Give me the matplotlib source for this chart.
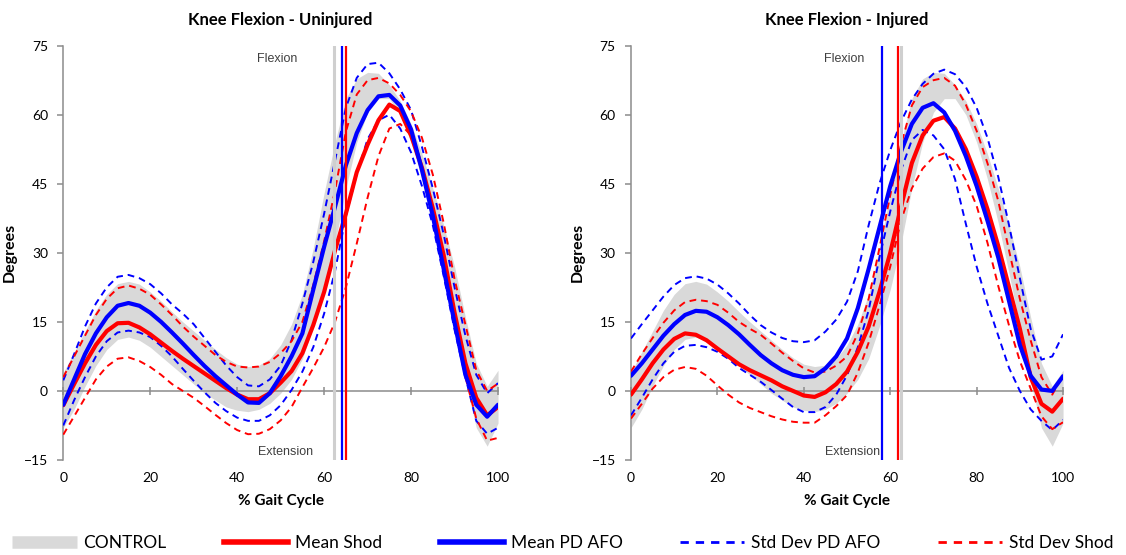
import matplotlib
matplotlib.use("Agg")
import matplotlib.pyplot as plt
from matplotlib.lines import Line2D

plt.rcParams["font.family"] = ["Lato", "DejaVu Sans"]

# % gait cycle sample points
gait = [0, 2.5, 5, 7.5, 10, 12.5, 15, 17.5, 20, 22.5, 25, 27.5, 30, 32.5, 35,
        37.5, 40, 42.5, 45, 47.5, 50, 52.5, 55, 57.5, 60, 62.5, 65, 67.5, 70,
        72.5, 75, 77.5, 80, 82.5, 85, 87.5, 90, 92.5, 95, 97.5, 100]

# control group band (mean +/- 1 SD), same in both panels
control_hi = [4, 8.5, 13, 17.5, 21, 23.3, 23.8, 23.2, 21.5, 19.5, 17.2, 15, 13,
              11, 9, 7.2, 5.8, 5.3, 5.6, 7, 10, 14.5, 21, 31, 43, 54, 63.5,
              67.8, 69.2, 69, 66.5, 63, 58, 51.5, 44, 36, 27, 16, 6, 1, 4.5]
control_lo = [-8, -4, 1, 5.5, 9, 11.2, 11.7, 11, 9.5, 7.5, 5.5, 3.5, 1.5, -0.5,
              -2, -3.5, -4.2, -4.5, -4, -2.7, -0.5, 2.5, 7, 14, 22, 32, 44, 54,
              60.5, 63.5, 63.5, 60, 54, 46, 36.5, 25.5, 14, 2, -8, -12, -7]

# uninjured limb
uninj_shod_mean = [-3.1, 1.5, 6, 10, 13, 14.7, 14.8, 13.8, 12.3, 10.5, 8.7, 7,
                   5.4, 3.8, 2.2, 0.6, -0.8, -1.8, -1.8, -0.5, 1.8, 4.3, 8.2,
                   14.3, 21.5, 30.5, 38.5, 47.5, 53.5, 58.8, 62.2, 60.8, 55.5,
                   48.5, 39.7, 29.5, 17, 6, -1.5, -5.3, -3.5]
uninj_afo_mean = [-3, 2.5, 8, 12.5, 16, 18.5, 19.1, 18.5, 17, 15, 12.7, 10.3,
                  7.8, 5.4, 3.2, 1.2, -0.8, -2.5, -2.6, -0.5, 3.2, 7.5, 12.5,
                  22, 31.3, 40, 49, 56, 61, 64, 64.3, 62, 56.8, 48, 38, 26.5,
                  14.8, 3.5, -3, -5.6, -3]
uninj_afo_hi = [2.3, 8, 14, 19, 22.5, 24.8, 25.2, 24.5, 23.2, 21.2, 18.8, 16.8,
                14.5, 11.5, 8.5, 5.5, 3, 1.2, 1, 2.5, 5.5, 11, 19, 28, 38.5, 50,
                61.5, 68, 71, 71.3, 69, 65.5, 61, 53, 44, 34, 22.5, 12, 3.5,
                -0.5, 1.7]
uninj_afo_lo = [-7.5, -2, 3, 7.5, 10.8, 12.7, 13.1, 12.7, 11.7, 9.8, 7.5, 4.8,
                2.2, -0.3, -2.6, -4.4, -5.8, -6.5, -6.5, -5.3, -3.1, 0.2, 4.2,
                9.5, 16.8, 26, 38, 47.1, 54.7, 58.8, 60, 57, 51.8, 44.5, 36,
                25, 13.3, 3, -6.5, -9.3, -8]
uninj_shod_hi = [3, 7.5, 12, 16.5, 20, 22.3, 22.9, 22.2, 20.9, 18.8, 16.5, 14,
                 11.8, 9.8, 7.8, 6.3, 5.3, 5.1, 5.3, 6.3, 8.2, 10.8, 15, 23,
                 32.5, 43.5, 56.3, 64.4, 67.5, 68, 66.8, 64.3, 60.7, 55, 47,
                 36.5, 24.3, 14.4, 4.5, 0, 1.6]
uninj_shod_lo = [-9.5, -5.5, -1.5, 2.5, 5.3, 7, 7.3, 6.5, 5.2, 3.5, 1.5, 0,
                 -1.5, -3.3, -5.2, -7, -8.5, -9.4, -9.3, -8.3, -6.4, -3.5, 0.8,
                 5, 9.5, 15, 22.5, 32, 42, 51, 57, 58, 55.5, 48, 38.5, 27,
                 14.5, 3, -6, -10.8, -10.2]

# injured limb
inj_shod_mean = [-0.8, 2.5, 6, 9, 11.3, 12.5, 12.2, 11, 9.2, 7.5, 5.8, 4.5, 3.4,
                 2.3, 1, 0, -1, -1.3, -0.3, 1.5, 4.2, 8.5, 14, 21.5, 30, 40,
                 49.5, 55.5, 58.7, 59.5, 57, 52.5, 46.5, 39.5, 31.5, 22.5,
                 13.5, 3, -2.8, -4.5, -1.7]
inj_afo_mean = [3.3, 6, 9, 12, 14.5, 16.5, 17.4, 17.2, 16, 14.3, 12.3, 10, 7.8,
                6, 4.5, 3.5, 3, 3.2, 4.9, 7.5, 11.4, 18, 26.5, 35.5, 44.5, 52,
                58, 61.5, 62.5, 60.5, 56.5, 51, 44.5, 37, 29, 19.5, 10, 3.3,
                0.3, 0, 3.2]
inj_afo_hi = [11.4, 14.5, 17.5, 20.5, 23, 24.5, 24.9, 24.4, 23.1, 21.2, 19,
              16.5, 14.3, 12.7, 11.5, 10.8, 10.6, 11, 12.9, 15.5, 19.4, 26, 36,
              45, 52.3, 58.5, 63.3, 66.7, 68.9, 69.8, 68.8, 66, 61.5, 55, 46.5,
              36, 24.5, 13.5, 6.8, 7.5, 12.3]
inj_afo_lo = [-5.3, -1.5, 2.5, 6, 8.5, 9.8, 10, 9.5, 8.5, 7, 5, 3.5, 2, 0.2,
              -1.7, -3.5, -4.6, -4.6, -3.5, -0.8, 3.4, 9.5, 17.5, 29, 39, 48,
              54.5, 56.7, 55.5, 52.5, 46, 36.3, 27, 19, 12, 5, 0, -4, -6.5,
              -8.5, -6.3]
inj_shod_hi = [4.2, 8, 11.5, 14.8, 17.5, 19.3, 19.8, 19.5, 18.7, 17, 15, 13.5,
               12.2, 10.3, 8.3, 6.5, 4.9, 4, 4.2, 5.5, 7.5, 12.5, 20, 31, 42.5,
               53.5, 62, 66, 67.5, 68, 66.3, 62.2, 56.5, 49.5, 41.3, 30.5, 20,
               11, 3, -0.8, 3.4]
inj_shod_lo = [-6, -2.8, 0.5, 3, 4.6, 5.2, 4.8, 3.3, 1.2, -0.8, -2.5, -3.7,
               -4.6, -5.5, -6.2, -6.7, -6.9, -6.9, -5.3, -3.3, -0.9, 4, 10.5,
               18.5, 27, 37, 44, 48.3, 50.8, 51.6, 50, 45.8, 40.2, 32.2, 22.8,
               14.2, 6.5, 0.5, -5.5, -8.3, -6.8]

# toe-off (% gait cycle): control, shod, PD AFO
toe_off_uninj = {"control": 62.3, "shod": 65.1, "afo": 64.1}
toe_off_inj = {"control": 62.4, "shod": 61.8, "afo": 58.1}

x_ticks = [0, 20, 40, 60, 80, 100]
y_ticks = [-15, 0, 15, 30, 45, 60, 75]

RED = "#ff0000"
BLUE = "#0000ff"
BAND = "#d9d9d9"
AXIS = "#8c8c8c"
DASH = (0, (3.5, 2.5))

fig = plt.figure(figsize=(11.26, 5.55), dpi=100)
ax_l = fig.add_axes([0.0562, 0.1712, 0.3861, 0.7465])
ax_r = fig.add_axes([0.5604, 0.1712, 0.3837, 0.7465])


def draw_panel(ax, title, shod_mean, afo_mean, afo_hi, afo_lo, shod_hi,
               shod_lo, toe_off):
    ax.fill_between(gait, control_lo, control_hi, color=BAND, lw=0, zorder=1)
    for series, colour in ((afo_hi, BLUE), (afo_lo, BLUE),
                           (shod_hi, RED), (shod_lo, RED)):
        ax.plot(gait, series, color=colour, lw=1.4, ls=DASH, zorder=3,
                dash_joinstyle="round")
    ax.plot(gait, shod_mean, color=RED, lw=3, zorder=4,
            solid_capstyle="round", solid_joinstyle="round")
    ax.plot(gait, afo_mean, color=BLUE, lw=3, zorder=4,
            solid_capstyle="round", solid_joinstyle="round")
    ax.axvline(toe_off["control"], color="#cfcfcf", lw=2.2, zorder=5)
    ax.axvline(toe_off["afo"], color=BLUE, lw=1.6, zorder=6)
    ax.axvline(toe_off["shod"], color=RED, lw=1.6, zorder=6)

    ax.set_xlim(0, 100)
    ax.set_ylim(-15, 75)
    ax.set_yticks(y_ticks)
    ax.set_xticks(x_ticks)
    for side in ("top", "right"):
        ax.spines[side].set_visible(False)
    ax.spines["left"].set_color(AXIS)
    ax.spines["left"].set_linewidth(1.1)
    ax.spines["bottom"].set_position(("data", 0))
    ax.spines["bottom"].set_color(AXIS)
    ax.spines["bottom"].set_linewidth(1.1)
    ax.spines["bottom"].set_zorder(2)
    ax.tick_params(axis="x", direction="inout", length=6, width=1.1,
                   color=AXIS, labelbottom=False)
    ax.tick_params(axis="y", direction="out", length=4, width=1.1,
                   color=AXIS, pad=7, labelsize=10)

    sec = ax.secondary_xaxis("bottom")
    sec.set_xticks(x_ticks)
    sec.spines["bottom"].set_visible(False)
    sec.tick_params(length=0, pad=9, labelsize=10)
    sec.set_xlabel("% Gait Cycle", fontsize=11, fontweight="bold",
                   labelpad=7)

    ax.set_ylabel("Degrees", fontsize=11.5, fontweight="bold", labelpad=5)
    ax.set_title(title, fontsize=12, fontweight="bold", pad=15)

    ax.text(49.3, 72, "Flexion", ha="center", va="center", fontsize=9,
            color="#404040", family="Liberation Sans")
    ax.text(51.2, -13.2, "Extension", ha="center", va="center", fontsize=9,
            color="#404040", family="Liberation Sans")


draw_panel(ax_l, "Knee Flexion - Uninjured", uninj_shod_mean, uninj_afo_mean,
           uninj_afo_hi, uninj_afo_lo, uninj_shod_hi, uninj_shod_lo,
           toe_off_uninj)
draw_panel(ax_r, "Knee Flexion - Injured", inj_shod_mean, inj_afo_mean,
           inj_afo_hi, inj_afo_lo, inj_shod_hi, inj_shod_lo, toe_off_inj)

handles = [
    Line2D([], [], color=BAND, lw=9, solid_capstyle="butt", label="CONTROL"),
    Line2D([], [], color=RED, lw=4, label="Mean Shod"),
    Line2D([], [], color=BLUE, lw=4, label="Mean PD AFO"),
    Line2D([], [], color=BLUE, lw=2, ls=(0, (3, 2.5)), label="Std Dev PD AFO"),
    Line2D([], [], color=RED, lw=2, ls=(0, (3, 2.5)), label="Std Dev Shod"),
]
fig.legend(handles=handles, loc="center", bbox_to_anchor=(0.5, 0.022),
           ncol=5, frameon=False, fontsize=12.5, handlelength=3.7,
           handletextpad=0.4, columnspacing=3.3)

fig.savefig("out.png", dpi=100)
